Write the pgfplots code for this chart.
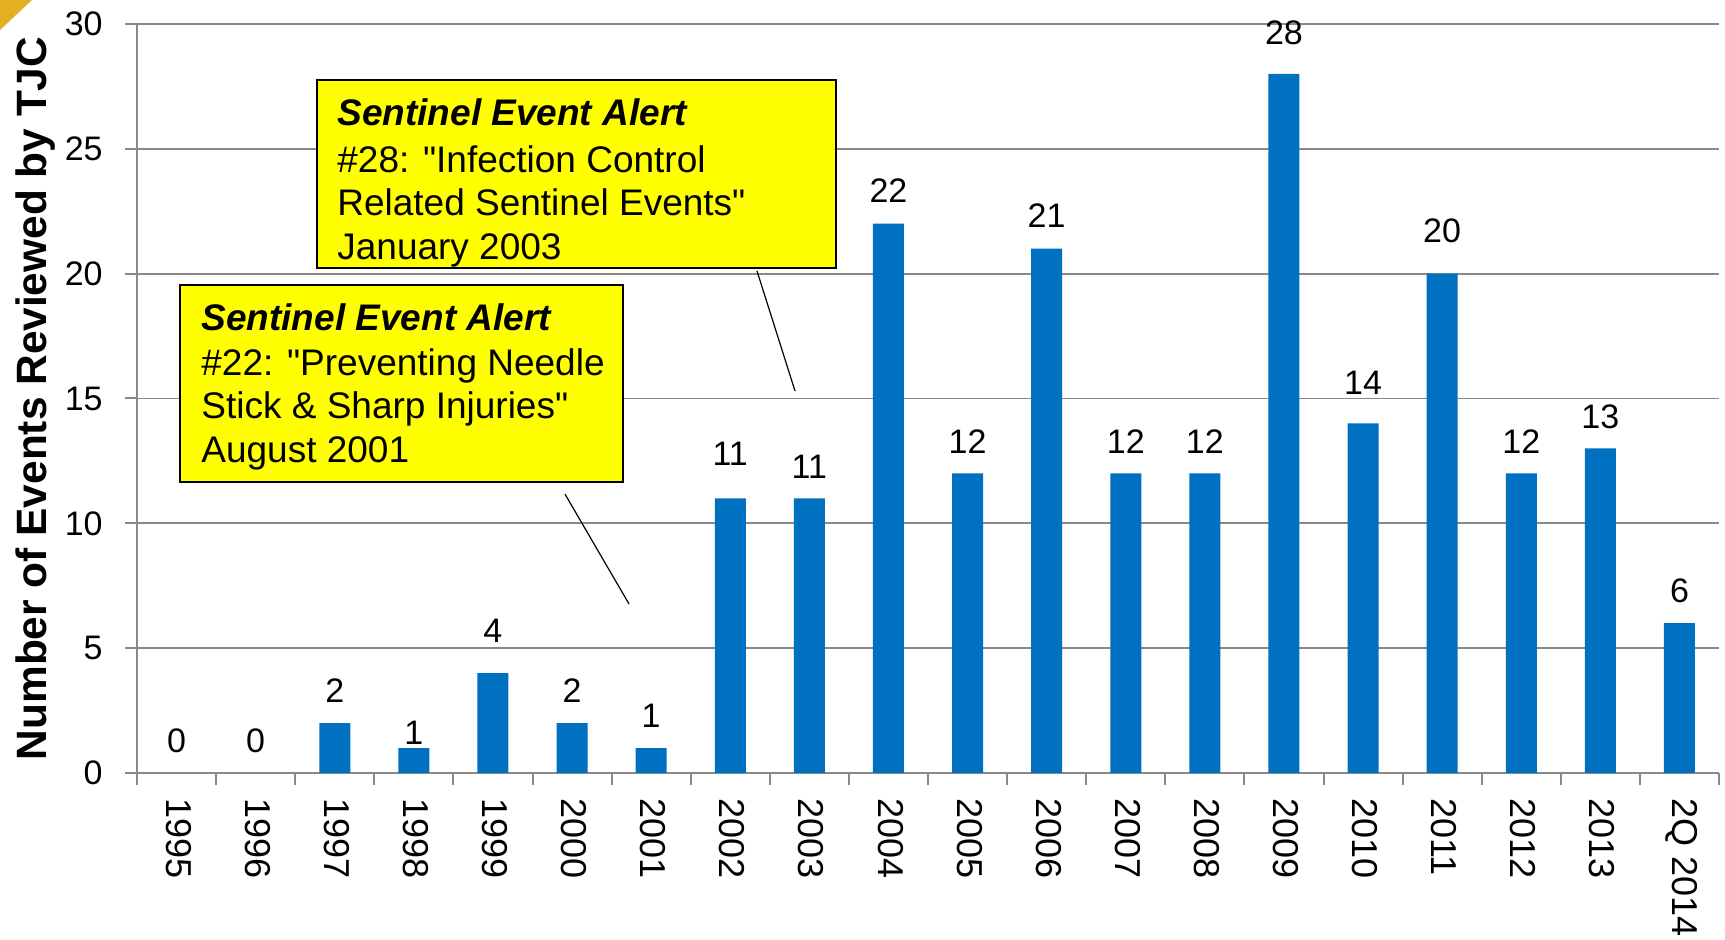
\documentclass[border=0pt]{standalone}
\usepackage{pgfplots}
\usepackage{pgfplotstable}
\pgfplotsset{compat=1.18}
\usepackage{fontspec}
\setmainfont{Liberation Sans}[Ligatures=TeXOff]
\definecolor{barblue}{HTML}{0070C0}
\definecolor{gridgray}{HTML}{898989}
\definecolor{gold}{HTML}{E5AF22}
\definecolor{boxyellow}{HTML}{FFFF00}

\pgfplotstableread{
x y off
0 0 16
1 0 16
2 2 16
3 1 7.5
4 4 21
5 2 16
6 1 16
7 11 22.5
8 11 16
9 22 16.5
10 12 16
11 21 16.5
12 12 16
13 12 16
14 28 20.5
15 14 20.5
16 20 21.5
17 12 16
18 13 16
19 6 16
}\datatable

\begin{document}
\begin{tikzpicture}
\begin{axis}[
  scale only axis, width=791pt, height=374.5pt,
  xmin=-0.5, xmax=19.5, ymin=0, ymax=30,
  ybar, bar width=15.5pt,
  axis x line*=bottom, axis y line*=left,
  axis line style={gridgray, line width=1pt},
  xtick={-0.5,0.5,...,19.5},
  x tick label as interval,
  xticklabels={1995,1996,1997,1998,1999,2000,2001,2002,2003,2004,2005,2006,2007,2008,2009,2010,2011,2012,2013,2Q 2014},
  ytick={0,5,...,30},
  ymajorgrids, grid style={gridgray, line width=0.9pt},
  tick align=outside, major tick length=6pt,
  tick style={gridgray, line width=1pt},
  /pgf/number format/assume math mode=true,
  tick label style={font=\fontsize{17}{20}\selectfont, text=black},
  xticklabel style={rotate=-90, anchor=west, inner sep=0pt, xshift=6.6pt, yshift=1pt, font=\fontsize{18}{20}\selectfont},
  yticklabel style={anchor=east, inner sep=0pt, xshift=-11pt},
  ylabel={Number of Events Reviewed by TJC},
  ylabel style={font=\bfseries\fontsize{21.2}{25}\selectfont, at={(axis description cs:-0.0569,0.5)}, anchor=base},
]
\addplot[fill=barblue, draw=none, bar shift=0pt,
  visualization depends on={\thisrow{off} \as \off},
  nodes near coords,
  every node near coord/.append style={font=\fontsize{17}{20}\selectfont, anchor=center, inner sep=0pt, yshift=\off*1pt, text=black}]
  table[x=x, y=y] {\datatable};

\coordinate (bl) at (rel axis cs:0,0);
\coordinate (tr) at (rel axis cs:1,1);
\coordinate (tl) at (rel axis cs:0,1);

% annotation boxes
\draw[black, line width=1pt, fill=boxyellow] (axis cs:1.776,27.76) rectangle (axis cs:8.337,20.23);
\draw[black, line width=0.6pt] (axis cs:7.338,20.11) -- (axis cs:7.819,15.30);
\node[anchor=base west, inner sep=0pt, font=\fontsize{18.5}{22}\selectfont\bfseries\itshape] at (axis cs:2.028,25.95) {Sentinel Event Alert};
\node[anchor=base west, inner sep=0pt, font=\fontsize{18.5}{22}\selectfont] at (axis cs:2.028,24.07) {\#28: "Infection Control};
\node[anchor=base west, inner sep=0pt, font=\fontsize{18.5}{22}\selectfont] at (axis cs:2.028,22.31) {Related Sentinel Events"};
\node[anchor=base west, inner sep=0pt, font=\fontsize{18.5}{22}\selectfont] at (axis cs:2.028,20.55) {January 2003};

\draw[black, line width=1pt, fill=boxyellow] (axis cs:0.044,19.55) rectangle (axis cs:5.644,11.66);
\draw[black, line width=0.6pt] (axis cs:4.911,11.17) -- (axis cs:5.720,6.77);
\node[anchor=base west, inner sep=0pt, font=\fontsize{18.5}{22}\selectfont\bfseries\itshape] at (axis cs:0.309,17.74) {Sentinel Event Alert};
\node[anchor=base west, inner sep=0pt, font=\fontsize{18.5}{22}\selectfont] at (axis cs:0.309,15.94) {\#22: "Preventing Needle};
\node[anchor=base west, inner sep=0pt, font=\fontsize{18.5}{22}\selectfont] at (axis cs:0.309,14.18) {Stick \& Sharp Injuries"};
\node[anchor=base west, inner sep=0pt, font=\fontsize{18.5}{22}\selectfont] at (axis cs:0.309,12.42) {August 2001};
\end{axis}
\pgfresetboundingbox
\path[use as bounding box] ([shift={(-68.5pt,-83.5pt)}]bl) rectangle ([shift={(3pt,12pt)}]tr);
\fill[gold] ([shift={(-68.5pt,12pt)}]tl) -- ([shift={(-52.5pt,12pt)}]tl) -- ([shift={(-68.5pt,-3pt)}]tl) -- cycle;
\end{tikzpicture}
\end{document}
